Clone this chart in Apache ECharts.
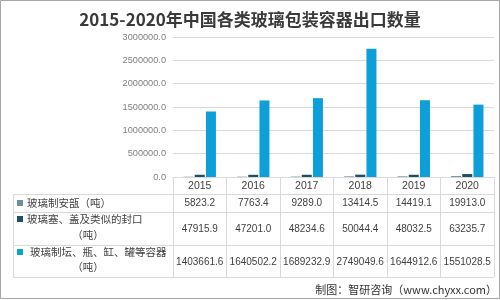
<!DOCTYPE html>
<html><head><meta charset="utf-8">
<script src="https://cdn.jsdelivr.net/npm/echarts@6/dist/echarts.min.js"></script>
<style>html,body{margin:0;padding:0;background:#fff}#c{width:500px;height:300px}</style>
</head><body><div id="c"></div>
<script>
var years = ['2015','2016','2017','2018','2019','2020'];
var seriesNames = ['玻璃制安瓿（吨）','玻璃塞、盖及类似的封口（吨）','玻璃制坛、瓶、缸、罐等容器（吨）'];
var ampoules = [5823.2, 7763.4, 9289.0, 13414.5, 14419.1, 19913.0];
var stoppers = [47915.9, 47201.0, 48234.6, 50044.4, 48032.5, 63235.7];
var containers = [1403661.6, 1640502.2, 1689232.9, 2749049.6, 1644912.6, 1551028.5];
var yTicks = [0, 500000, 1000000, 1500000, 2000000, 2500000, 3000000];
var colors = ['#6f8ea2', '#1d4f66', '#0d9fd8'];

var chart = echarts.init(document.getElementById('c'), null, {renderer:'canvas'});
var numFont = 'Liberation Sans, Noto Sans CJK SC, sans-serif';
var cjkFont = 'Noto Sans CJK SC, sans-serif';
var grid = {left:173, right:6, top:37, bottom:123};
var axisY = 177;
function rowAxis(data, y, opts){
  return Object.assign({
    type:'category', data:data, gridIndex:0, position:'bottom', offset: y - axisY,
    axisLine:{show:false}, axisTick:{show:false}, splitLine:{show:false},
    axisLabel:{interval:0, margin:0, verticalAlign:'middle', color:'#404040', fontSize:10, fontFamily:numFont,
      formatter:function(v){return Number(v).toFixed(1);}}
  }, opts||{});
}
var option = {
  backgroundColor:'#fff',
  animation:false,
  title:{text:'2015-2020年中国各类玻璃包装容器出口数量', left:'center', top:6,
    textStyle:{fontSize:17, fontWeight:'bold', color:'#3a3a3a', fontFamily:cjkFont}},
  grid:grid,
  xAxis:[
    {type:'category', data:years, gridIndex:0,
      axisLine:{lineStyle:{color:'#d9d9d9'}},
      axisTick:{show:true, length:100, lineStyle:{color:'#d9d9d9'}},
      axisLabel:{interval:0, margin:9, verticalAlign:'middle', color:'#404040', fontSize:10.5, fontFamily:numFont}},
    rowAxis(ampoules, 203),
    rowAxis(stoppers, 229),
    rowAxis(containers, 262)
  ],
  yAxis:{type:'value', min:0, max:3000000, interval:500000,
    axisLine:{show:false}, axisTick:{show:false},
    splitLine:{lineStyle:{color:'#d9d9d9'}},
    axisLabel:{margin:7, color:'#7f7f7f', fontSize:9.2, fontFamily:numFont,
      formatter:function(v){return v.toFixed(1);}}},
  series:[
    {name:seriesNames[0], type:'bar', data:ampoules, barWidth:10, barGap:'12%', itemStyle:{color:colors[0]}},
    {name:seriesNames[1], type:'bar', data:stoppers, barWidth:10, barGap:'12%', itemStyle:{color:colors[1]}},
    {name:seriesNames[2], type:'bar', data:containers, barWidth:10, barGap:'12%', itemStyle:{color:colors[2]}}
  ]
};
chart.setOption(option);

// table frame and row headers
var L = 13, R = 500 - grid.right;
var lineStyle = {stroke:'#d9d9d9', lineWidth:1};
var g = [];
[194, 212, 245, 277].forEach(function(y){
  g.push({type:'line', silent:true, shape:{x1:L, y1:y+0.5, x2:R, y2:y+0.5}, style:lineStyle});
});
g.push({type:'line', silent:true, shape:{x1:L+0.5, y1:194, x2:L+0.5, y2:277}, style:lineStyle});
var rowLabels = [
  {lines:['玻璃制安瓿（吨）'], ys:[203], sq:203},
  {lines:['玻璃塞、盖及类似的封口','（吨）'], ys:[219, 235], sq:219},
  {lines:['玻璃制坛、瓶、缸、罐等容器','（吨）'], ys:[252, 267], sq:252}
];
rowLabels.forEach(function(r, i){
  g.push({type:'rect', silent:true, shape:{x:17, y:r.sq-3, width:6, height:6}, style:{fill:colors[i]}});
  r.lines.forEach(function(t, j){
    var centered = j > 0;
    g.push({type:'text', silent:true, x: centered ? 88 : (i===2 ? 30 : 27), y:r.ys[j],
      style:{text:t, fill:'#404040', fontSize:10.5, fontFamily:cjkFont,
        align: centered ? 'center' : 'left', verticalAlign:'middle'}});
  });
});
g.push({type:'text', silent:true, x:497, y:290,
  style:{text:'制图：智研咨询（www.chyxx.com）', fill:'#333', fontSize:11, fontFamily:cjkFont, align:'right', verticalAlign:'middle'}});
g.push({type:'rect', silent:true, shape:{x:0.5, y:0.5, width:499, height:298}, style:{fill:null, stroke:'#a6a6a6', lineWidth:1}});
chart.setOption({graphic:g});
</script></body></html>
